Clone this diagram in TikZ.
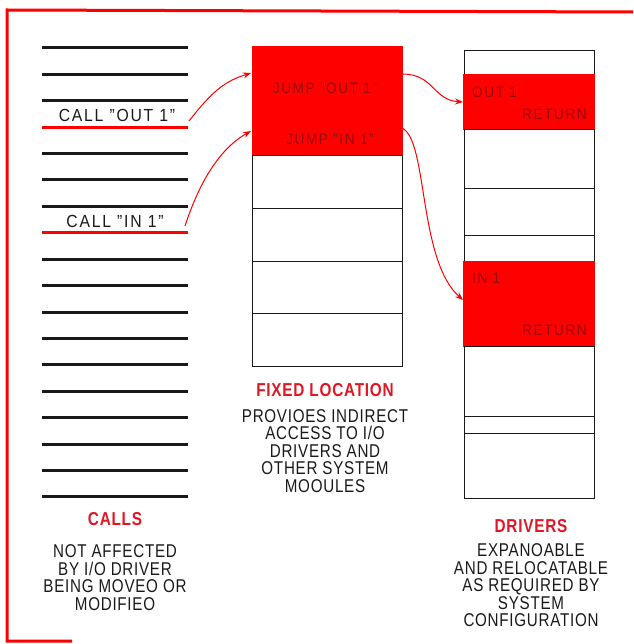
\documentclass[tikz,border=0pt]{standalone}
\usepackage{fontspec}
\usepackage{xcolor}
\usepackage{tikz}
\usetikzlibrary{positioning,arrows.meta}
\setmainfont{Liberation Sans}
\newfontfamily\captfont[FakeStretch=0.82,LetterSpace=4]{Liberation Sans}
\newfontfamily\labfont[FakeStretch=0.9,LetterSpace=10]{Liberation Sans}
\definecolor{hot}{RGB}{255,0,0}
\definecolor{headred}{RGB}{222,24,36}
\definecolor{celltxt}{RGB}{150,12,12}
\definecolor{ink}{RGB}{25,25,25}

\begin{document}
\begin{tikzpicture}[x=1pt,y=-1pt,
		cell/.style={draw=ink, line width=1.2pt, inner sep=0pt, anchor=north west},
		redcell/.style={cell, fill=hot, draw=hot},
		callline/.style={line width=3pt, ink},
		calllabel/.style={font=\labfont\fontsize{17.5}{19}\selectfont, text=ink, inner sep=0pt},
		celltext/.style={font=\labfont\fontsize{15.2}{17}\selectfont, text=celltxt, inner sep=0pt},
		head/.style={font=\captfont\bfseries\fontsize{18.7}{20}\selectfont, text=headred, inner sep=0pt},
		desc/.style={font=\captfont\fontsize{18.5}{17.5}\selectfont, text=ink, align=center, inner sep=0pt},
		link/.style={-{Stealth[length=8pt,width=6pt]}, line width=1pt, hot}]
		\useasboundingbox (0,0) rectangle (633,644);
		% frame
		\draw[hot, line width=3pt] (633,12) -- (7,10) -- (7,641) -- (72,641);
		% calls
		\foreach \i in {0,1,2,4,5,6,8,9,10,11,12,13,14,15,16,17}
			\draw[callline] (42,48+26.4*\i) -- (188,48+26.4*\i);
		\draw[callline, hot] (42,127.2) -- (188,127.2);
		\draw[callline, hot] (42,232.8) -- (188,232.8);
		\node[calllabel] (outcall) at (117,115) {CALL ”OUT 1”};
		\node[calllabel] (incall) at (115,221.5) {CALL ”IN 1”};
		\coordinate (callout) at (189,121);
		\coordinate (callin) at (185,226);
		% fixed location
		\node[redcell, minimum width=150pt, minimum height=109pt] (jump) at (252,46) {};
		\node[cell, minimum width=150pt, minimum height=53pt] (fix1) at (252,155) {};
		\node[cell, minimum width=150pt, minimum height=53pt] (fix2) at (252,208) {};
		\node[cell, minimum width=150pt, minimum height=52pt] (fix3) at (252,261) {};
		\node[cell, minimum width=150pt, minimum height=53pt] (fix4) at (252,313) {};
		\node[celltext] (jumpout) at (325,88) {JUMP ”OUT 1”};
		\node[celltext] (jumpin) at (330,139) {JUMP ”IN 1”};
		% drivers
		\node[cell, minimum width=130pt, minimum height=24pt] (drv0) at (464,50) {};
		\node[redcell, minimum width=131pt, minimum height=55pt] (drvout) at (463,74) {};
		\node[cell, minimum width=130pt, minimum height=59pt] (drv1) at (464,129) {};
		\node[cell, minimum width=130pt, minimum height=47pt] (drv2) at (464,188) {};
		\node[cell, minimum width=130pt, minimum height=26pt] (drv3) at (464,235) {};
		\node[redcell, minimum width=131pt, minimum height=85pt] (drvin) at (463,261) {};
		\node[cell, minimum width=130pt, minimum height=70pt] (drv4) at (464,346) {};
		\node[cell, minimum width=130pt, minimum height=17pt] (drv5) at (464,416) {};
		\node[cell, minimum width=130pt, minimum height=65pt] (drv6) at (464,433) {};
		\node[celltext, anchor=west] (outname) at (472,92) {OUT 1};
		\node[celltext, anchor=east] (outret) at (587,114) {RETURN};
		\node[celltext, anchor=west] (inname) at (472,278) {IN 1};
		\node[celltext, anchor=east] (inret) at (587,330) {RETURN};
		% connectors
		\coordinate (jumpA) at (251,73);
		\coordinate (jumpB) at (251,131);
		\coordinate (outA) at (402,74);
		\coordinate (inA) at (402,128);
		\coordinate (drvA) at (463,102);
		\coordinate (drvB) at (463,300);
		\draw[link] (callout) .. controls +(25,-32) and +(-25,8) .. (jumpA);
		\draw[link] (callin) .. controls +(18,-55) and +(-25,14) .. (jumpB);
		\draw[link] (outA) .. controls +(32,0) and +(-30,-2) .. (drvA);
		\draw[link] (inA) .. controls +(26,12) and +(-45,-40) .. (drvB);
		% captions
		\node[head] (callshead) at (115,519) {CALLS};
		\node[desc, below=19pt of callshead] (callsdesc)
			{NOT AFFECTED\\BY I/O DRIVER\\BEING MOVEO OR\\MODIFIEO};
		\node[head] (fixhead) at (325,390) {FIXED LOCATION};
		\node[desc, below=12.5pt of fixhead] (fixdesc)
			{PROVIOES INDIRECT\\ACCESS TO I/O\\DRIVERS AND\\OTHER SYSTEM\\MOOULES};
		\node[head] (drvhead) at (531,526) {DRIVERS};
		\node[desc, below=11pt of drvhead] (drvdesc)
			{EXPANOABLE\\AND RELOCATABLE\\AS REQUIRED BY\\SYSTEM\\CONFIGURATION};
	\end{tikzpicture}
\end{document}
